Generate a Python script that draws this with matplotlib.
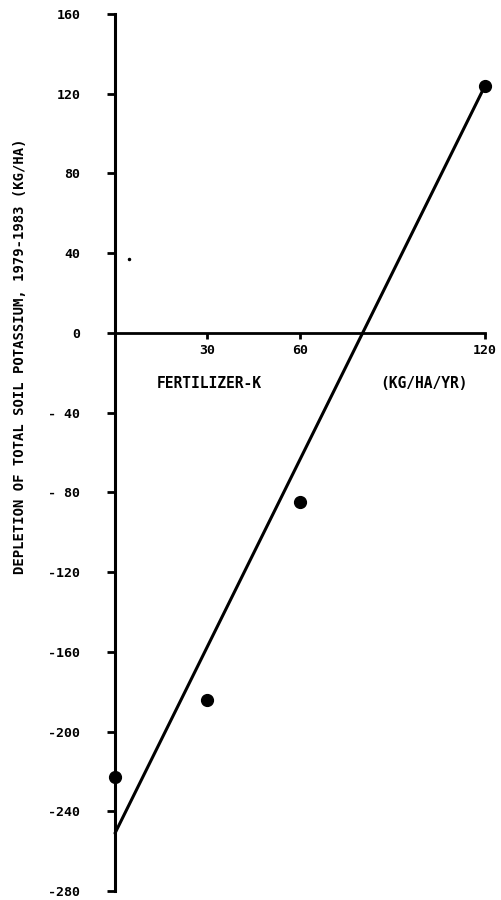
import numpy as np
import matplotlib
matplotlib.use('Agg')
import matplotlib.pyplot as plt

# data
fert_k = [0, 30, 60, 120]
depletion = [-223, -184, -85, 124]

# fitted line as drawn
fit_x = [0, 120]
fit_y = [-251, 124]

x_ticks = [30, 60, 120]
y_ticks = [160, 120, 80, 40, 0, -40, -80, -120, -160, -200, -240, -280]
y_ticklabels = ['160', '120', '80', '40', '0', '- 40', '- 80', '-120', '-160', '-200', '-240', '-280']

plt.rcParams['font.family'] = ['DejaVu Sans Mono']
plt.rcParams['font.weight'] = 'bold'

fig = plt.figure(figsize=(5.02, 9), dpi=100)
ax = fig.add_axes([115/502, 9/900, 370/502, 877/900])

ax.plot(fit_x, fit_y, color='black', lw=2.2, clip_on=False, solid_capstyle='round')
ax.plot(fert_k, depletion, 'o', color='black', ms=8.5, clip_on=False)
# stray speck in the scan
ax.plot([4.5], [37], 'o', color='black', ms=1.5)

ax.set_xlim(0, 120)
ax.set_ylim(-280, 160)

for s in ['top', 'right']:
    ax.spines[s].set_visible(False)
ax.spines['bottom'].set_position(('data', 0))
ax.spines['left'].set_linewidth(2.2)
ax.spines['bottom'].set_linewidth(2.0)

ax.set_yticks(y_ticks)
ax.set_yticklabels(y_ticklabels, fontsize=9.5, fontweight='bold')
ax.tick_params(axis='y', direction='out', length=6, width=2, pad=19)

ax.set_xticks(x_ticks)
ax.set_xticklabels([str(t) for t in x_ticks], fontsize=9.5, fontweight='bold')
ax.tick_params(axis='x', direction='out', length=4, width=2, pad=4)

ax.text(30.7, -25.5, 'FERTILIZER-K', ha='center', va='center', fontsize=10.5, fontweight='bold')
ax.text(100.3, -25.5, '(KG/HA/YR)', ha='center', va='center', fontsize=10.5, fontweight='bold')

fig.text(20/502, 1 - 356/900, 'DEPLETION OF TOTAL SOIL POTASSIUM, 1979-1983 (KG/HA)',
         rotation=90, ha='center', va='center', fontsize=10, fontweight='bold')

plt.savefig('out.png', dpi=100)
